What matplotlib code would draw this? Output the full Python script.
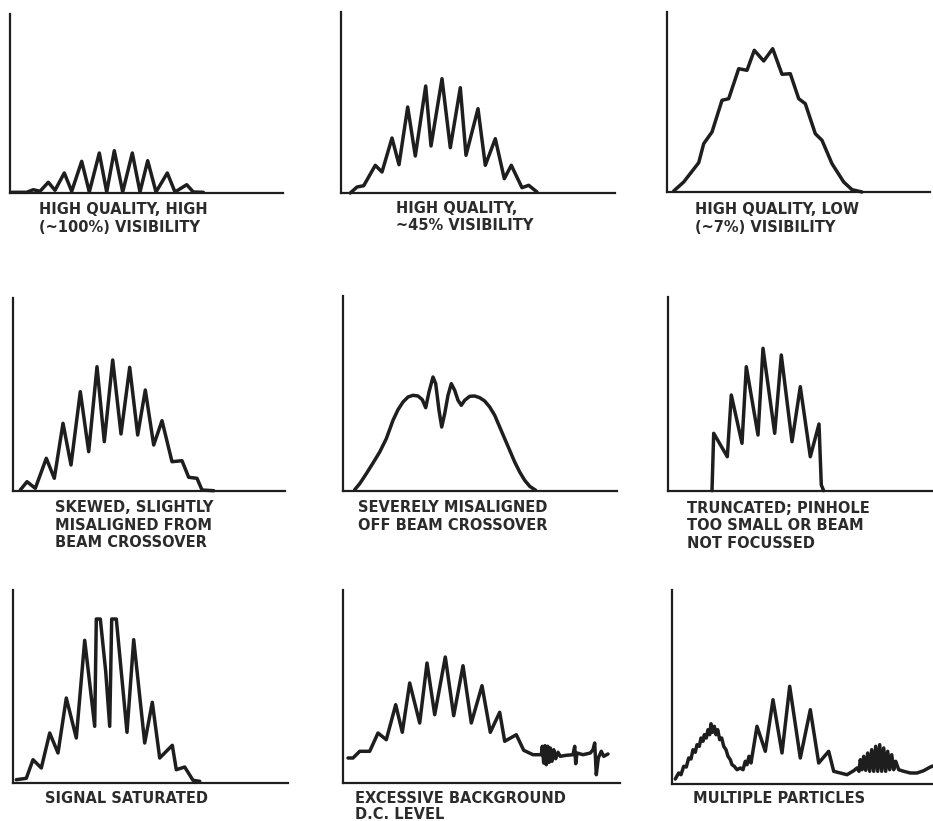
import matplotlib
matplotlib.use("Agg")
import matplotlib.pyplot as plt

W, H = 933, 821

# ---- data (pixel-like units relative to each panel's origin: x right, y up) ----
p1_x = [1.7, 16.7, 23.3, 30, 38.3, 45, 54.3, 61.7, 71.7, 79.3, 89.3, 96.7, 104.3, 112.7,
        122.3, 130, 137.7, 146, 157.3, 165, 176.7, 183.3, 193.3]
p1_y = [0.7, 0.7, 3.3, 1.7, 10.7, 2.7, 20, 1.7, 31.7, 1, 40, 1, 42.3, 1,
        40, 1, 32.3, 1, 20, 1, 8.3, 1, 0.7]

p2_x = [9.3, 16, 22.7, 34.3, 41, 51, 58, 66.7, 74.3, 84.7, 90, 101, 109.3, 119.3, 125,
        137, 144.3, 154.3, 163.3, 170.3, 181, 187.7, 196]
p2_y = [0, 6, 7.3, 27.7, 21, 55, 28.3, 86, 37, 107, 47, 114.3, 45.3, 105.3, 37.7,
        84.3, 27.7, 54.3, 14.3, 27.7, 5.3, 7.7, 1]

p3_x = [6.7, 16.7, 31.7, 36.7, 45, 55, 61.7, 71.7, 80, 87.3, 96.7, 105.7, 115, 123.3,
        131.7, 138.3, 148.3, 155, 165, 176.7, 185, 195]
p3_y = [1, 10, 29.3, 48.3, 60, 91.7, 93.3, 123.3, 121.7, 141.7, 131, 143.3, 117.7, 118.3,
        93.3, 88.3, 58.3, 51.7, 28.3, 10, 2.3, 0]

p4_x = [7.3, 14, 22.3, 33.3, 41.3, 50, 58, 67.3, 75.7, 84, 91.3, 99.7, 108, 116.7, 124.7,
        132.3, 140.7, 149, 159, 169, 175.7, 184, 189, 200.7]
p4_y = [1, 9.3, 2.7, 32.7, 12.7, 67.7, 26, 99.3, 39.3, 124.3, 49.3, 131, 57, 123.7, 56,
        101, 46, 70.3, 29.3, 30.3, 13.7, 12.7, 1, 0.3]

p5_x = [11.7, 16.7, 23.3, 30, 36.7, 43.3, 50, 55, 60, 65, 70, 75, 79.3, 82.7, 86, 90, 92.7,
        96, 98.7, 101.7, 105, 108.3, 111.7, 115, 118.3, 121.7, 126.7, 131.7, 136.7, 141.7,
        146.7, 151.7, 156.7, 161.7, 166.7, 171.7, 176.7, 181.7, 186.7, 192.7]
p5_y = [1.3, 7.3, 17.3, 28, 39, 52.3, 70.7, 81.3, 89, 94, 95.7, 95, 91.3, 83.3, 99, 114, 107.3,
        80.7, 64, 77.3, 95.7, 107.3, 100.7, 90.7, 85.7, 90.7, 94.7, 95, 93.3, 90,
        84, 75.7, 64, 52.3, 40.7, 29, 19, 10.7, 4.7, 0.7]

p6_x = [44, 45.7, 59.3, 63.3, 74, 78.3, 90, 95, 106.7, 113.3, 124, 132.3, 142.3, 151, 153.3, 155.7]
p6_y = [0.3, 57.7, 34.3, 96, 47.7, 124.3, 56, 142.7, 57.7, 136, 49.3, 104.3, 34.3, 67, 6, 0.3]

p7_x = [3.3, 13.3, 20, 28.3, 36.7, 45, 53.3, 63.3, 71.7, 81.7, 83.3, 87.3, 92.7, 96.7, 98.7,
        103.3, 114, 120.7, 131.7, 139.3, 146.7, 159.3, 163.3, 171.7, 180, 186.7]
p7_y = [3.3, 4.7, 23.3, 15, 50, 30, 85, 45, 142.7, 56.7, 164, 164, 111.7, 56.7, 164,
        164, 50.7, 143.3, 40, 80.7, 25, 37.7, 13.3, 16, 2.7, 1.7]

p8_x = [5, 10, 16.7, 26.7, 35, 43.3, 52.7, 59.3, 66.7, 76.7, 84, 91.7, 102.3, 110.7, 120,
        128.3, 139, 147.3, 156.7, 161.7, 173.3, 180.7, 190, 198.3, 199.3, 200.7, 202, 203.3,
        204.7, 206, 207.3, 209, 210.7, 212.7, 215, 217.3, 223.3, 230, 231.7, 232.7, 234,
        240, 247.3, 250, 251.7, 253.3, 255.3, 258.3, 260.7, 265]
p8_y = [25, 25, 31.7, 31.7, 50, 43.3, 78.3, 50.7, 100, 60, 120, 68.3, 126, 67.3, 117.3,
        60, 97.3, 50.7, 70.7, 41.7, 48.3, 32.7, 28.3, 28.3, 36.7, 20, 37.3, 18.3,
        36.7, 20.7, 35, 21.7, 33.3, 24.3, 30.7, 26.7, 27.7, 28.3, 36.7, 19.3, 30,
        28.3, 30, 33.3, 40, 8.3, 25, 31.7, 26.7, 29]

p9_x = [3.3, 6.7, 9, 11.7, 14.3, 16.7, 19, 21, 23.3, 25, 27.3, 29, 31, 32.3, 34.3, 36, 37.7,
        39, 40.7, 42.3, 44, 45.7, 47.7, 49.7, 51.7, 54, 56, 58.3, 60, 62.3, 65, 68.3, 71,
        73.3, 75, 77, 79, 85, 93.3, 101, 110, 117.7, 128.3, 138.3, 146.7, 156.7, 161.7,
        168.3, 175, 181.7, 185, 187, 188.3, 190, 191.7, 193.7, 195.7, 197.7, 199.7, 201.7,
        203.7, 205.7, 207.7, 209.7, 211.7, 213.7, 215.7, 217.7, 219.7, 221.7, 223.7, 226.7,
        231.7, 238.3, 245, 251.7, 258.3, 261.7]
p9_y = [5, 11, 9.3, 17.7, 17, 26, 25, 34.3, 31.7, 39.3, 37.7, 46, 42.7, 49.3, 46, 54.3, 49.3,
        60.3, 51.7, 57.7, 49.3, 54.3, 44.3, 46, 37.7, 34.3, 27.7, 24.3, 19.3, 17.7, 14.3, 16, 14.3,
        22.7, 19.3, 27.7, 21, 57.7, 32.7, 84.3, 31, 97.7, 26, 74.3, 21, 32.7, 12.7,
        11, 9.3, 13.3, 16, 12.7, 24.3, 14.3, 27.7, 13.7, 31, 12.7, 34.3, 12.7,
        37.7, 12.7, 39.3, 12.7, 36, 12.7, 32.7, 14.3, 29.3, 14.3, 22.7, 14.3,
        12.7, 11, 11, 13.3, 17, 18.3]

labels = [
    ["HIGH QUALITY, HIGH", "(~100%) VISIBILITY"],
    ["HIGH QUALITY,", "~45% VISIBILITY"],
    ["HIGH QUALITY, LOW", "(~7%) VISIBILITY"],
    ["SKEWED, SLIGHTLY", "MISALIGNED FROM", "BEAM CROSSOVER"],
    ["SEVERELY MISALIGNED", "OFF BEAM CROSSOVER"],
    ["TRUNCATED; PINHOLE", "TOO SMALL OR BEAM", "NOT FOCUSSED"],
    ["SIGNAL SATURATED"],
    ["EXCESSIVE BACKGROUND", "D.C. LEVEL"],
    ["MULTIPLE PARTICLES"],
]

series = [(p1_x, p1_y), (p2_x, p2_y), (p3_x, p3_y),
          (p4_x, p4_y), (p5_x, p5_y), (p6_x, p6_y),
          (p7_x, p7_y), (p8_x, p8_y), (p9_x, p9_y)]

# ---- layout (pixels): axis x, top y, baseline y, axis length; label x, first baseline y, step ----
layout = [
    (10, 14, 193, 273, 39, 214, 17.5),
    (341, 12, 193, 274, 396, 213, 17.5),
    (667, 12, 192, 263, 695, 214, 17.5),
    (13, 298, 491, 272, 55, 512, 17.5),
    (343, 296, 491, 274, 358, 512, 17.5),
    (668, 297, 491, 264, 687, 513, 17.5),
    (13, 590, 783, 275, 45, 803, 16),
    (343, 590, 783, 277, 355, 803, 15.5),
    (672, 590, 784, 272, 693, 803, 16),
]

ink = "#1e1e1e"
fig = plt.figure(figsize=(W / 100, H / 100), dpi=100)
fig.patch.set_facecolor("white")

for (xs, ys), (ax_x, top, base, length, lx, ly, step), lab in zip(series, layout, labels):
    h = base - top
    ax = fig.add_axes([ax_x / W, 1 - base / H, length / W, h / H])
    ax.set_xlim(0, length)
    ax.set_ylim(0, h)
    ax.plot(xs, ys, color=ink, lw=2.5, solid_joinstyle="round", solid_capstyle="round",
            clip_on=False)
    for s in ["top", "right"]:
        ax.spines[s].set_visible(False)
    for s in ["left", "bottom"]:
        ax.spines[s].set_linewidth(1.6)
        ax.spines[s].set_color(ink)
    ax.set_xticks([])
    ax.set_yticks([])
    ax.patch.set_alpha(0)
    for i, t in enumerate(lab):
        fig.text(lx / W, 1 - (ly + i * step) / H, t, ha="left", va="baseline",
                 fontsize=10.5, fontweight="bold", color="#2b2b2b", family="DejaVu Sans")

fig.savefig("out.png", dpi=100, facecolor="white")
